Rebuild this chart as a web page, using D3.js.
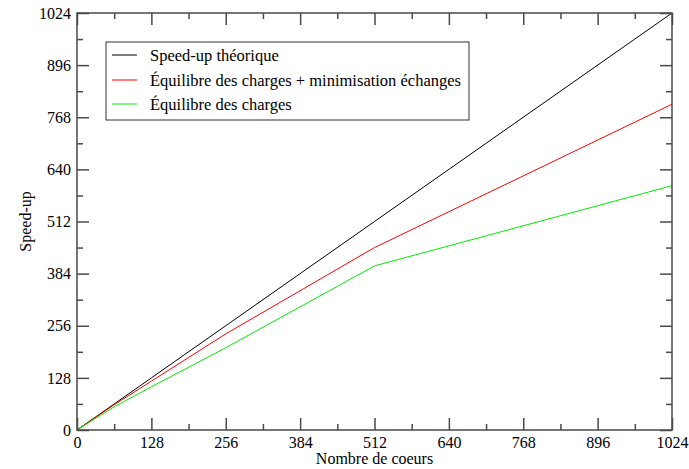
<!DOCTYPE html>
<html>
<head>
<meta charset="utf-8">
<script src="https://cdn.jsdelivr.net/npm/d3@7"></script>
<style>
  html, body { margin: 0; padding: 0; background: #fff; }
  svg { display: block; }
  svg text { font-family: "Liberation Serif", "DejaVu Serif", serif; fill: #000; }
</style>
</head>
<body>
<svg id="chart" width="689" height="469"></svg>
<script>
// Number of cores (x) and measured speed-up per strategy (y)
const cores = [1, 64, 128, 256, 512, 1024];
const theoretical = [1, 64, 128, 256, 512, 1024];
const balancedMinExchange = [1, 62, 120, 236, 448, 800];
const balanced = [1, 57, 106, 202, 403, 600];

const seriesNames = [
  "Speed-up théorique",
  "Équilibre des charges + minimisation échanges",
  "Équilibre des charges"
];
const seriesColors = ["#000000", "#ff0000", "#00ee00"];

const majorTicks = [0, 128, 256, 384, 512, 640, 768, 896, 1024];
const minorTicks = [64, 192, 320, 448, 576, 704, 832, 960];

const xTitle = "Nombre de coeurs";
const yTitle = "Speed-up";

const fontStack = '"Liberation Serif", "DejaVu Serif", serif';

const svg = d3.select("#chart");
const plotLeft = 77, plotRight = 672, plotTop = 13, plotBottom = 430;

const x = d3.scaleLinear().domain([0, 1024]).range([plotLeft, plotRight]);
const y = d3.scaleLinear().domain([0, 1024]).range([plotBottom, plotTop]);

const frameColor = "#4a4a4a";
const major = 12, minor = 6;

// Data lines
const series = [theoretical, balancedMinExchange, balanced];
const line = d3.line().x(d => x(d[0])).y(d => y(d[1]));
series.forEach((vals, i) => {
  svg.append("path")
    .datum(cores.map((c, j) => [c, vals[j]]))
    .attr("d", line)
    .attr("fill", "none")
    .attr("stroke", seriesColors[i])
    .attr("stroke-width", 1);
});

// Axes with ticks pointing into the plot on all four sides
function addAxis(axisFn, scale, transform, ticks, size, labelled) {
  const a = axisFn(scale).tickValues(ticks).tickSize(-size)
    .tickPadding(labelled ? 6 : 0)
    .tickFormat(labelled ? d3.format("d") : () => "");
  const g = svg.append("g").attr("transform", transform).call(a);
  g.attr("font-family", fontStack).attr("font-size", 16);
  g.select(".domain").remove();
  g.selectAll(".tick line").attr("stroke", frameColor).attr("stroke-width", 1.5);
  g.selectAll(".tick text").attr("fill", "#000");
  return g;
}

// bottom
const gxb = addAxis(d3.axisBottom, x, `translate(0,${plotBottom})`, majorTicks, major, true);
gxb.selectAll(".tick text").attr("y", 7).attr("dy", "0.71em");
addAxis(d3.axisBottom, x, `translate(0,${plotBottom})`, minorTicks, minor, false);
// top
addAxis(d3.axisTop, x, `translate(0,${plotTop})`, majorTicks, major, false);
addAxis(d3.axisTop, x, `translate(0,${plotTop})`, minorTicks, minor, false);
// left
const gyl = addAxis(d3.axisLeft, y, `translate(${plotLeft},0)`, majorTicks, major, true);
gyl.selectAll(".tick text").attr("x", -6);
addAxis(d3.axisLeft, y, `translate(${plotLeft},0)`, minorTicks, minor, false);
// right
addAxis(d3.axisRight, y, `translate(${plotRight},0)`, majorTicks, major, false);
addAxis(d3.axisRight, y, `translate(${plotRight},0)`, minorTicks, minor, false);

// Frame
svg.append("rect")
  .attr("x", plotLeft).attr("y", plotTop)
  .attr("width", plotRight - plotLeft).attr("height", plotBottom - plotTop)
  .attr("fill", "none").attr("stroke", frameColor).attr("stroke-width", 1.5);

// Axis titles
svg.append("text")
  .attr("x", (plotLeft + plotRight) / 2).attr("y", 464)
  .attr("text-anchor", "middle").attr("font-size", 16)
  .text(xTitle);

svg.append("text")
  .attr("transform", `translate(31,${(plotTop + plotBottom) / 2}) rotate(-90)`)
  .attr("text-anchor", "middle").attr("font-size", 16)
  .text(yTitle);

// Legend
const legend = svg.append("g");
legend.append("rect")
  .attr("x", 106).attr("y", 42).attr("width", 363).attr("height", 78)
  .attr("fill", "#fff").attr("stroke", "#333").attr("stroke-width", 1);
const rowY = [55, 80, 104];
seriesNames.forEach((name, i) => {
  legend.append("line")
    .attr("x1", 112).attr("x2", 137)
    .attr("y1", rowY[i]).attr("y2", rowY[i])
    .attr("stroke", seriesColors[i]).attr("stroke-width", 1);
  legend.append("text")
    .attr("x", 150).attr("y", rowY[i]).attr("dy", "0.35em")
    .attr("font-size", 16.5)
    .text(name);
});
</script>
</body>
</html>
